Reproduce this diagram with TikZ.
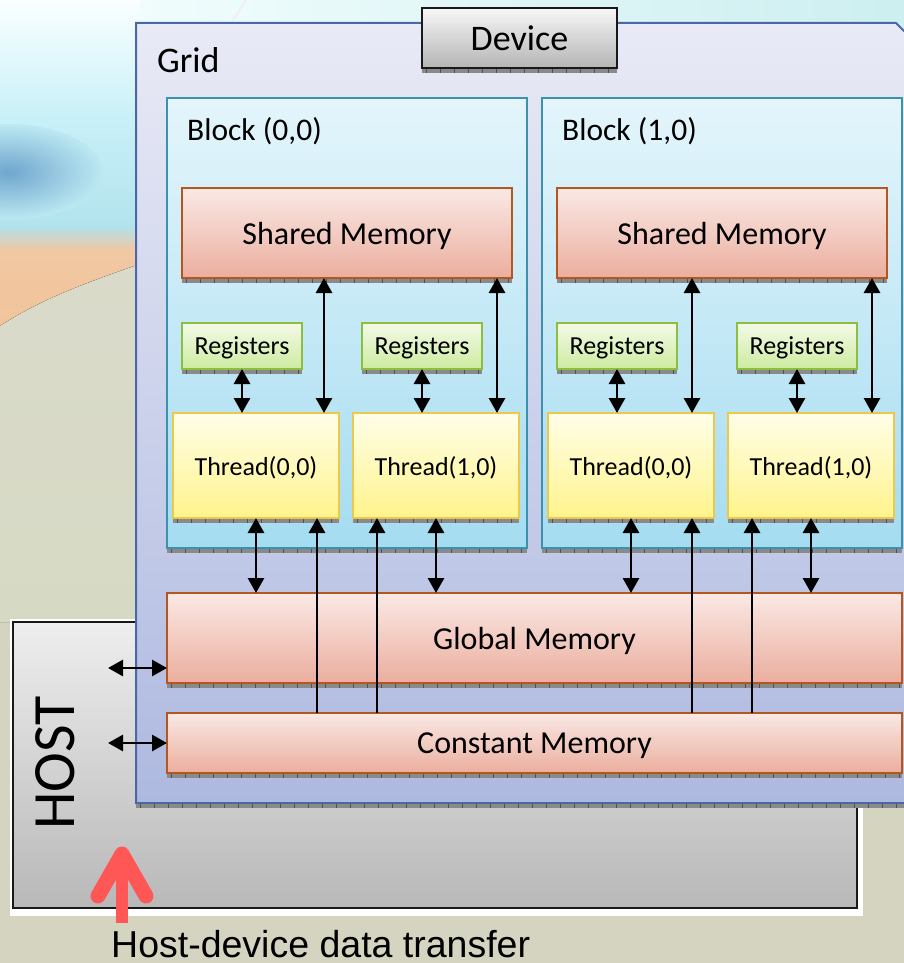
\documentclass[tikz,border=0pt]{standalone}
\usepackage{fontspec}
\setmainfont{Carlito}
\newfontfamily\arialfont{Liberation Sans}
\usetikzlibrary{arrows.meta}

\definecolor{bgbeige}{HTML}{D4D4C0}
\definecolor{gridtop}{HTML}{E9EAF6}
\definecolor{gridbot}{HTML}{AEB9E0}
\definecolor{griddraw}{HTML}{4A68A8}
\definecolor{blocktop}{HTML}{E4F5FB}
\definecolor{blockbot}{HTML}{A5DCF1}
\definecolor{blockdraw}{HTML}{3A92AC}
\definecolor{memtop}{HTML}{FAE9E5}
\definecolor{membot}{HTML}{EBAE9E}
\definecolor{memdraw}{HTML}{B5561E}
\definecolor{regtop}{HTML}{F3FAE8}
\definecolor{regbot}{HTML}{CDEBA0}
\definecolor{regdraw}{HTML}{8CBF3F}
\definecolor{thrtop}{HTML}{FFFEE8}
\definecolor{thrbot}{HTML}{FFF48C}
\definecolor{thrdraw}{HTML}{EDC84A}
\definecolor{devtop}{HTML}{F7F7F7}
\definecolor{devbot}{HTML}{B5B5B5}
\definecolor{hosttop}{HTML}{EEEEEE}
\definecolor{hostbot}{HTML}{B8B8B8}
\definecolor{stripgray}{HTML}{8A8A8A}
\definecolor{stripdark}{HTML}{505050}
\definecolor{xferred}{HTML}{FF5656}
\definecolor{skycyan}{RGB}{200,240,248}
\definecolor{skymid}{RGB}{188,233,242}
\definecolor{skylow}{RGB}{176,226,236}
\definecolor{skyblue}{RGB}{112,166,206}
\definecolor{peach}{RGB}{240,200,162}

\tikzset{
  >={Triangle[width=16pt,length=15pt]},
  box/.style={draw, line width=2pt, inner sep=0pt, outer sep=0pt, text=black, text depth=0pt},
  devbox/.style={box, draw=black!90, line width=2.6pt, top color=devtop, bottom color=devbot,
    minimum width=195pt, minimum height=60pt, font=\fontsize{36}{42}\selectfont},
  blockbox/.style={box, draw=blockdraw, top color=blocktop, bottom color=blockbot,
    minimum width=360pt, minimum height=450pt},
  membox/.style={box, draw=memdraw, top color=memtop, bottom color=membot,
    font=\fontsize{32}{38}\selectfont},
  regbox/.style={box, draw=regdraw, top color=regtop, bottom color=regbot,
    minimum width=120pt, minimum height=46pt, font=\fontsize{26}{30}\selectfont},
  thrbox/.style={box, draw=thrdraw, top color=thrtop, bottom color=thrbot,
    minimum width=166pt, minimum height=105pt, font=\fontsize{26}{30}\selectfont},
  label/.style={inner sep=0pt, anchor=west, text=black},
  link/.style={line width=2.9pt, black},
}

% gray ruler strip under a box
\newcommand{\rulerstrip}[1]{%
  \fill[stripgray] ([yshift=-1pt]#1.south west) rectangle ([yshift=-5pt]#1.south east);
  \draw[stripdark, line width=4pt, dash pattern=on 1pt off 13pt]
    ([yshift=-3pt,xshift=4pt]#1.south west) -- ([yshift=-3pt]#1.south east);
}

\begin{document}
\begin{tikzpicture}[x=1pt,y=1pt]
\useasboundingbox (0,0) rectangle (904,-963);
\clip (0,0) rectangle (904,-963);

% ---- backdrop ----
\fill[bgbeige] (0,0) rectangle (904,-963);
\fill[left color=white!97!cyan, right color={rgb,255:red,205;green,239;blue,240}] (0,0) rectangle (904,-40);
\fill[top color=white!98!cyan, bottom color=skycyan] (0,0) rectangle (140,-120);
\fill[top color=skycyan, bottom color=skylow] (0,-120) rectangle (140,-238);
\shade[inner color=skyblue, outer color=skymid] (8,-172) ellipse (95pt and 48pt);
\fill[top color=skylow, bottom color=peach] (0,-226) rectangle (140,-250);
\fill[top color=peach, bottom color={rgb,255:red,242;green,196;blue,154}]
  (0,-250) -- (140,-250) -- (140,-264) .. controls (80,-285) and (40,-300) .. (0,-326) -- cycle;
\fill[top color={rgb,255:red,218;green,218;blue,202}, bottom color={rgb,255:red,214;green,218;blue,196}]
  (0,-326) .. controls (40,-300) and (80,-285) .. (140,-264) -- (140,-622) -- (0,-622) -- cycle;
\draw[white!88!gray, line width=2pt] (246,0) -- (231,-23);

% ---- host ----
\fill[white] (10,-619) rectangle (863,-916);
\node[draw=black!90, line width=2.6pt, top color=hosttop, bottom color=hostbot,
  inner sep=0pt, outer sep=0pt, minimum width=844pt, minimum height=286pt]
  (host) at (435,-765) {};
\node[rotate=90, inner sep=0pt, font=\fontsize{60}{70}\selectfont] (hostlbl) at (55,-763) {HOST};

% ---- grid ----
\draw[griddraw, line width=2pt, top color=gridtop, bottom color=gridbot]
  (136,-23) -- (896,-23) -- (905,-32) -- (905,-803) -- (136,-803) -- cycle;
\fill[stripgray] (136,-804) rectangle (905,-808);
\draw[stripdark, line width=4pt, dash pattern=on 1pt off 13pt] (140,-806) -- (905,-806);
\node[label, font=\fontsize{36}{42}\selectfont] (gridlbl) at (157,-60) {Grid};

\node[devbox] (dev) at (519.5,-38) {Device};

% ---- blocks ----
\node[blockbox] (b0) at (347,-323) {};
\node[blockbox] (b1) at (722,-323) {};
\node[label, font=\fontsize{31.5}{38}\selectfont] (b0lbl) at (187,-131) {Block (0,0)};
\node[label, font=\fontsize{31.5}{38}\selectfont] (b1lbl) at (562,-131) {Block (1,0)};

\node[membox, minimum width=330pt, minimum height=90pt] (sm0) at (347,-233) {Shared Memory};
\node[membox, minimum width=330pt, minimum height=90pt] (sm1) at (722,-233) {Shared Memory};

\node[regbox] (r00) at (242,-346) {Registers};
\node[regbox] (r01) at (422,-346) {Registers};
\node[regbox] (r10) at (617,-346) {Registers};
\node[regbox] (r11) at (797,-346) {Registers};

\node[thrbox] (t00) at (256,-465.5) {Thread(0,0)};
\node[thrbox] (t01) at (436,-465.5) {Thread(1,0)};
\node[thrbox] (t10) at (631,-465.5) {Thread(0,0)};
\node[thrbox] (t11) at (811,-465.5) {Thread(1,0)};

% ---- device-wide memories ----
\node[membox, minimum width=735pt, minimum height=90pt] (gm) at (534.5,-638) {Global Memory};
\node[membox, minimum width=735pt, minimum height=60pt] (cm) at (534.5,-743) {Constant Memory};

\foreach \n in {dev,b0,b1,sm0,sm1,r00,r01,r10,r11,t00,t01,t10,t11,gm,cm} {\rulerstrip{\n}}

% ---- connectors ----
\foreach \r/\t in {r00/t00,r01/t01,r10/t10,r11/t11}
  \draw[link,<->] (\r.south) -- (\r.south |- \t.north);

\draw[link,<->] ([xshift=68pt]t00.north) -- ([xshift=68pt]t00.north |- sm0.south);
\draw[link,<->] ([xshift=61pt]t01.north) -- ([xshift=61pt]t01.north |- sm0.south);
\draw[link,<->] ([xshift=61pt]t10.north) -- ([xshift=61pt]t10.north |- sm1.south);
\draw[link,<->] ([xshift=61pt]t11.north) -- ([xshift=61pt]t11.north |- sm1.south);

\foreach \t in {t00,t01,t10,t11}
  \draw[link,<->] (\t.south) -- (\t.south |- gm.north);

\draw[link,->] ([xshift=61pt]t00.south |- cm.north) -- ([xshift=61pt]t00.south);
\draw[link,->] ([xshift=-59pt]t01.south |- cm.north) -- ([xshift=-59pt]t01.south);
\draw[link,->] ([xshift=61pt]t10.south |- cm.north) -- ([xshift=61pt]t10.south);
\draw[link,->] ([xshift=-59pt]t11.south |- cm.north) -- ([xshift=-59pt]t11.south);

\coordinate (hg) at (108,-668);
\coordinate (hc) at (108,-743);
\draw[link,<->] (hg) -- (gm.west |- hg);
\draw[link,<->] (hc) -- (cm.west);

% ---- transfer marker ----
\coordinate (xfoot) at (122,-923);
\coordinate (xtip) at (122,-854);
\draw[xferred, line width=12pt] (xfoot) -- ([yshift=-6pt]xtip);
\draw[xferred, line width=15pt, line cap=round, line join=round]
  (98,-896) -- (xtip) -- (146,-896);
\node[inner sep=0pt, anchor=base west, font=\arialfont\fontsize{37.5}{44}\selectfont]
  (xferlbl) at (111,-957) {Host-device data transfer};
\end{tikzpicture}
\end{document}
